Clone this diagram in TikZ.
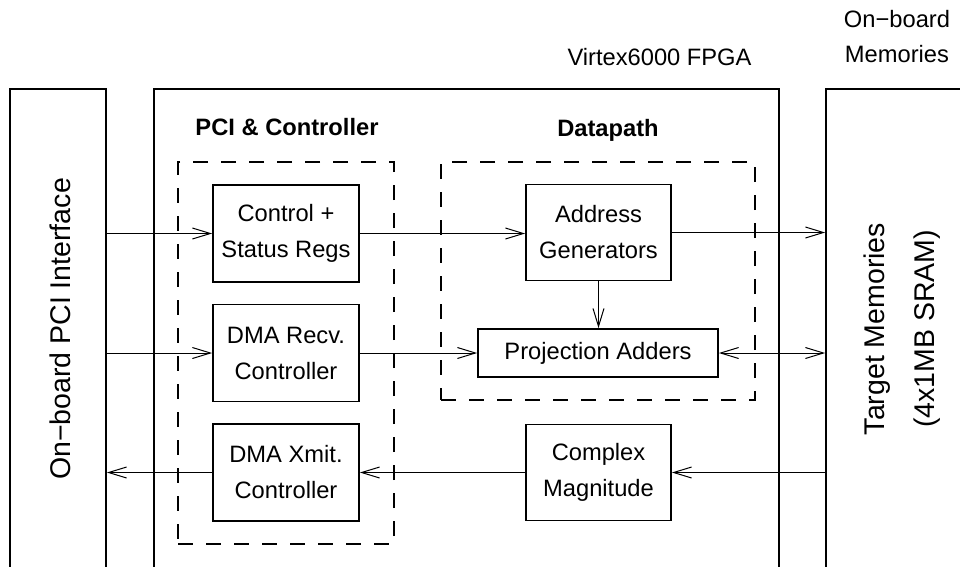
\documentclass[tikz,border=0pt]{standalone}
\usepackage{fontspec}
\setmainfont{Liberation Sans}
\usetikzlibrary{arrows.meta}
\begin{document}
\begin{tikzpicture}[x=1pt,y=-1pt,
 big/.style={draw, line width=1.8pt, inner sep=0pt},
 box/.style={draw, line width=1.8pt, inner sep=0pt, align=center, font=\fontsize{23.7}{36}\selectfont},
 dbox/.style={draw, line width=1.8pt, dash pattern=on 15pt off 13pt, inner sep=0pt},
 arr/.style={line width=1pt, -{Straight Barb[length=18pt,width=11pt]}},
 darr/.style={line width=1pt, {Straight Barb[length=18pt,width=11pt]}-{Straight Barb[length=18pt,width=11pt]}},
 lbl/.style={font=\fontsize{23.7}{35}\selectfont, inner sep=0pt, align=center},
 blbl/.style={font=\bfseries\fontsize{23.7}{35}\selectfont, inner sep=0pt},
 rot/.style={rotate=90, align=center, inner sep=0pt, font=\fontsize{28.5}{50}\selectfont}]
\useasboundingbox (0,0) rectangle (960,566);
\clip (0,0) rectangle (960,566);
% outer blocks
\node[big, minimum width=96pt, minimum height=486pt] (pci) at (58,332) {};
\node[big, minimum width=625pt, minimum height=486pt] (fpga) at (466.5,332) {};
\node[big, minimum width=149pt, minimum height=486pt] (mem) at (900.5,332) {};
\node[rot] (pcitext) at (60,329) {On−board PCI Interface};
\node[rot] (memtext) at (902,329) {Target Memories\\(4x1MB SRAM)};
% titles
\node[lbl, anchor=base] (fpgatitle) at (659.5,65) {Virtex6000 FPGA};
\node[lbl, anchor=north] (memtitle) at (897,10.5) {On−board\\Memories};
\node[blbl, anchor=base] (pcititle) at (287,135) {PCI \& Controller};
\node[blbl, anchor=base] (dptitle) at (608,136) {Datapath};
% dashed groups
\node[dbox, minimum width=216pt, minimum height=382pt] (pcigrp) at (286,353) {};
\node[dbox, minimum width=314pt, minimum height=238pt] (dpgrp) at (598,281) {};
% inner blocks
\node[box, minimum width=146pt, minimum height=97pt] (ctrl) at (286,233.5) {Control +\\Status Regs};
\node[box, minimum width=146pt, minimum height=97pt] (recv) at (286,353) {DMA Recv.\\Controller};
\node[box, minimum width=146pt, minimum height=97pt] (xmit) at (286,472.5) {DMA Xmit.\\Controller};
\node[box, minimum width=145pt, minimum height=96pt] (agen) at (598.5,232.5) {Address\\Generators};
\node[box, minimum width=240pt, minimum height=48pt] (padd) at (598,353) {Projection Adders};
\node[box, minimum width=145pt, minimum height=96pt] (cmag) at (598.5,472.5) {Complex\\Magnitude};
% connectors
\draw[arr] (pci.east |- ctrl.west) -- (ctrl.west);
\draw[arr] (ctrl.east) -- (agen.west |- ctrl.east);
\draw[arr] (agen.east) -- (mem.west |- agen.east);
\draw[arr] (pci.east |- recv.west) -- (recv.west);
\draw[arr] (recv.east) -- (padd.west |- recv.east);
\draw[darr] (padd.east) -- (mem.west |- padd.east);
\draw[arr] (agen.south) -- (padd.north -| agen.south);
\draw[arr] (mem.west |- cmag.east) -- (cmag.east);
\draw[arr] (cmag.west) -- (xmit.east |- cmag.west);
\draw[arr] (xmit.west) -- (pci.east |- xmit.west);
\end{tikzpicture}
\end{document}
